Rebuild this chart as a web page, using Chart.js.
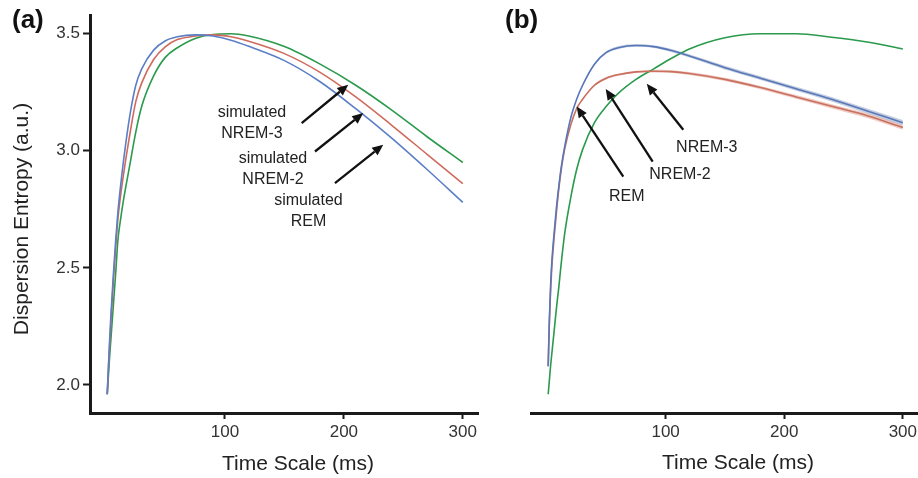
<!DOCTYPE html>
<html>
<head>
<meta charset="utf-8">
<script src="https://cdn.jsdelivr.net/npm/chart.js@4.4.1/dist/chart.umd.min.js"></script>
<style>
  html, body { margin: 0; padding: 0; background: #fff; }
  #wrap { position: relative; width: 918px; height: 478px; overflow: hidden; background: #fff; }
  canvas { position: absolute; top: 0; }
  #cA { left: 0; }
  #cB { left: 480px; }
</style>
</head>
<body>
<div id="wrap">
  <canvas id="cA" width="480" height="478"></canvas>
  <canvas id="cB" width="438" height="478"></canvas>
</div>
<script>
// ---------- data ----------
const timeScale = [1, 2, 3, 4, 6, 8, 10, 12, 15, 20, 25, 30, 40, 50, 60, 75, 90, 105, 120, 150, 180, 210, 240, 270, 300];

// panel (a): simulated signals
const simREM   = [1.96, 2.08, 2.19, 2.29, 2.46, 2.61, 2.74, 2.84, 2.97, 3.15, 3.28, 3.35, 3.43, 3.47, 3.487, 3.495, 3.49, 3.472, 3.446, 3.385, 3.295, 3.18, 3.055, 2.92, 2.78];
const simNREM2 = [1.96, 2.07, 2.17, 2.26, 2.43, 2.58, 2.71, 2.80, 2.91, 3.07, 3.21, 3.29, 3.39, 3.445, 3.475, 3.49, 3.495, 3.487, 3.468, 3.415, 3.335, 3.23, 3.11, 2.985, 2.86];
const simNREM3 = [1.96, 2.04, 2.12, 2.19, 2.33, 2.47, 2.62, 2.70, 2.80, 2.94, 3.08, 3.19, 3.32, 3.40, 3.44, 3.48, 3.497, 3.50, 3.49, 3.445, 3.37, 3.28, 3.175, 3.06, 2.95];

// panel (b): recorded sleep stages
const remB   = [2.08, 2.28, 2.42, 2.52, 2.65, 2.76, 2.85, 2.93, 3.02, 3.14, 3.22, 3.28, 3.37, 3.42, 3.44, 3.45, 3.445, 3.428, 3.405, 3.355, 3.31, 3.265, 3.22, 3.17, 3.12];
const nrem2B = [2.08, 2.27, 2.40, 2.50, 2.63, 2.74, 2.84, 2.92, 3.01, 3.11, 3.18, 3.22, 3.28, 3.31, 3.325, 3.337, 3.34, 3.338, 3.33, 3.305, 3.27, 3.23, 3.19, 3.15, 3.10];
const nrem3B = [1.96, 2.02, 2.08, 2.13, 2.23, 2.33, 2.42, 2.52, 2.65, 2.80, 2.92, 3.005, 3.12, 3.19, 3.245, 3.305, 3.35, 3.395, 3.435, 3.483, 3.50, 3.50, 3.485, 3.465, 3.435];
const remBSpread   = [0.003, 0.003, 0.003, 0.003, 0.003, 0.003, 0.003, 0.003, 0.004, 0.004, 0.004, 0.005, 0.005, 0.005, 0.006, 0.006, 0.006, 0.007, 0.007, 0.008, 0.008, 0.009, 0.010, 0.011, 0.012];
const nrem2BSpread = [0.003, 0.003, 0.003, 0.003, 0.003, 0.003, 0.003, 0.003, 0.003, 0.004, 0.004, 0.004, 0.005, 0.005, 0.005, 0.005, 0.006, 0.006, 0.006, 0.007, 0.007, 0.008, 0.009, 0.010, 0.010];

const xTickValues = [100, 200, 300];
const yTickValues = [2.0, 2.5, 3.0, 3.5];
const xRange = [-13.5, 312.8];
const yRange = [1.88, 3.58];

// ---------- styling ----------
const FONT = '"Liberation Sans", Arial, Helvetica, sans-serif';
const C_BLUE = '#5b7ec6';
const C_RED = '#cf6a5c';
const C_GREEN = '#2a9a4c';
const AXIS = '#1a1a1a';

const pts = (ys) => timeScale.map((t, i) => ({ x: t, y: ys[i] }));
const ptsOff = (ys, sp, s) => timeScale.map((t, i) => ({ x: t, y: ys[i] + s * sp[i] }));

const lineDs = (label, ys, color) => ({
  label, data: pts(ys), borderColor: color, borderWidth: 1.6,
  pointRadius: 0, cubicInterpolationMode: 'monotone', fill: false
});

// annotation plugin: panel tag, axis titles, arrows and labels
const figNotes = {
  id: 'figNotes',
  afterDraw(chart, args, o) {
    const ctx = chart.ctx, xs = chart.scales.x, ys = chart.scales.y;
    ctx.save();
    ctx.fillStyle = '#111';
    ctx.font = 'bold 26px ' + FONT;
    ctx.textAlign = 'left'; ctx.textBaseline = 'alphabetic';
    ctx.fillText(o.tag, o.tagPos[0], o.tagPos[1]);

    ctx.fillStyle = '#222';
    ctx.font = '21px ' + FONT;
    ctx.textAlign = 'center'; ctx.textBaseline = 'middle';
    if (o.xTitle) ctx.fillText(o.xTitle.text, o.xTitle.pos[0], o.xTitle.pos[1]);
    if (o.yTitle) {
      ctx.save();
      ctx.translate(o.yTitle.pos[0], o.yTitle.pos[1]);
      ctx.rotate(-Math.PI / 2);
      ctx.fillText(o.yTitle.text, 0, 0);
      ctx.restore();
    }

    ctx.strokeStyle = '#111'; ctx.fillStyle = '#111'; ctx.lineWidth = 2.3;
    for (const a of o.arrows) {
      const x1 = xs.getPixelForValue(a.from[0]), y1 = ys.getPixelForValue(a.from[1]);
      const x2 = xs.getPixelForValue(a.to[0]), y2 = ys.getPixelForValue(a.to[1]);
      const ang = Math.atan2(y2 - y1, x2 - x1);
      const hl = 11, hw = 4.8;
      const bx = x2 - hl * Math.cos(ang), by = y2 - hl * Math.sin(ang);
      ctx.beginPath(); ctx.moveTo(x1, y1); ctx.lineTo(bx, by); ctx.stroke();
      ctx.beginPath();
      ctx.moveTo(x2, y2);
      ctx.lineTo(bx + hw * Math.sin(ang), by - hw * Math.cos(ang));
      ctx.lineTo(bx - hw * Math.sin(ang), by + hw * Math.cos(ang));
      ctx.closePath(); ctx.fill();
    }

    ctx.fillStyle = '#222';
    ctx.font = '16px ' + FONT;
    ctx.textAlign = 'center'; ctx.textBaseline = 'middle';
    for (const l of o.labels) {
      const cx = xs.getPixelForValue(l.at[0]), cy = ys.getPixelForValue(l.at[1]);
      const n = l.lines.length, lh = 21;
      l.lines.forEach((s, i) => ctx.fillText(s, cx, cy + (i - (n - 1) / 2) * lh));
    }
    ctx.restore();
  }
};

function xScale() {
  return {
    type: 'linear', min: xRange[0], max: xRange[1],
    afterBuildTicks: (s) => { s.ticks = xTickValues.map(v => ({ value: v })); },
    afterFit: (s) => { s.height = 65; s.paddingLeft = 0; s.paddingRight = 0; },
    ticks: { color: '#333', font: { family: FONT, size: 17 }, padding: 3, maxRotation: 0, autoSkip: false,
             callback: (v) => String(v) },
    grid: { display: true, drawOnChartArea: false, drawTicks: true, tickLength: 6, tickColor: AXIS, tickWidth: 2 },
    border: { display: true, color: AXIS, width: 3 },
    title: { display: false }
  };
}
function yScale(show) {
  return {
    type: 'linear', min: yRange[0], max: yRange[1], display: show,
    afterBuildTicks: (s) => { s.ticks = yTickValues.map(v => ({ value: v })); },
    afterFit: (s) => { if (show) s.width = 90; s.paddingTop = 0; s.paddingBottom = 0; },
    ticks: { color: '#333', font: { family: FONT, size: 17 }, padding: 3, callback: (v) => Number(v).toFixed(1) },
    grid: { display: true, drawOnChartArea: false, drawTicks: true, tickLength: 7, tickColor: AXIS, tickWidth: 2 },
    border: { display: true, color: AXIS, width: 3 },
    title: { display: false }
  };
}
const baseOpts = (padding, notes, showY) => ({
  responsive: false, animation: false,
  layout: { padding },
  plugins: { legend: { display: false }, tooltip: { enabled: false }, figNotes: notes },
  scales: { x: xScale(), y: yScale(showY) }
});

// ---------- panel (a) ----------
new Chart(document.getElementById('cA'), {
  type: 'line',
  data: { datasets: [
    lineDs('simulated REM', simREM, C_BLUE),
    lineDs('simulated NREM-2', simNREM2, C_RED),
    lineDs('simulated NREM-3', simNREM3, C_GREEN)
  ] },
  options: baseOpts({ top: 15, right: 2, bottom: 0, left: 0 }, {
    tag: '(a)', tagPos: [12, 28],
    xTitle: { text: 'Time Scale (ms)', pos: [298, 464] },
    yTitle: { text: 'Dispersion Entropy (a.u.)', pos: [22, 219] },
    arrows: [
      { from: [164.5, 3.118], to: [203.7, 3.282] },
      { from: [175.7, 2.997], to: [216.3, 3.161] },
      { from: [192.5, 2.862], to: [233.1, 3.026] }
    ],
    labels: [
      { at: [122.7, 3.12], lines: ['simulated', 'NREM-3'] },
      { at: [140.4, 2.923], lines: ['simulated', 'NREM-2'] },
      { at: [170.2, 2.741], lines: ['simulated', 'REM'] }
    ]
  }, true),
  plugins: [figNotes]
});

// ---------- panel (b) ----------
new Chart(document.getElementById('cB'), {
  type: 'line',
  data: { datasets: [
    lineDs('REM', remB, '#5877bb'),
    lineDs('NREM-2', nrem2B, '#c9705f'),
    lineDs('NREM-3', nrem3B, C_GREEN),
    { label: 'REM upper', data: ptsOff(remB, remBSpread, 1), borderWidth: 0, pointRadius: 0,
      cubicInterpolationMode: 'monotone', fill: '+1', backgroundColor: 'rgba(150,165,195,0.55)' },
    { label: 'REM lower', data: ptsOff(remB, remBSpread, -1), borderWidth: 0, pointRadius: 0,
      cubicInterpolationMode: 'monotone', fill: false },
    { label: 'NREM-2 upper', data: ptsOff(nrem2B, nrem2BSpread, 1), borderWidth: 0, pointRadius: 0,
      cubicInterpolationMode: 'monotone', fill: '+1', backgroundColor: 'rgba(225,160,145,0.55)' },
    { label: 'NREM-2 lower', data: ptsOff(nrem2B, nrem2BSpread, -1), borderWidth: 0, pointRadius: 0,
      cubicInterpolationMode: 'monotone', fill: false }
  ] },
  options: baseOpts({ top: 15, right: 0, bottom: 0, left: 51 }, {
    tag: '(b)', tagPos: [25, 28],
    xTitle: { text: 'Time Scale (ms)', pos: [258, 463] },
    arrows: [
      { from: [64.3, 2.890], to: [25.0, 3.189] },
      { from: [89.1, 2.954], to: [49.5, 3.264] },
      { from: [114.9, 3.090], to: [84.1, 3.286] }
    ],
    labels: [
      { at: [134.7, 3.012], lines: ['NREM-3'] },
      { at: [112.1, 2.897], lines: ['NREM-2'] },
      { at: [67.2, 2.805], lines: ['REM'] }
    ]
  }, false),
  plugins: [figNotes]
});
</script>
</body>
</html>
